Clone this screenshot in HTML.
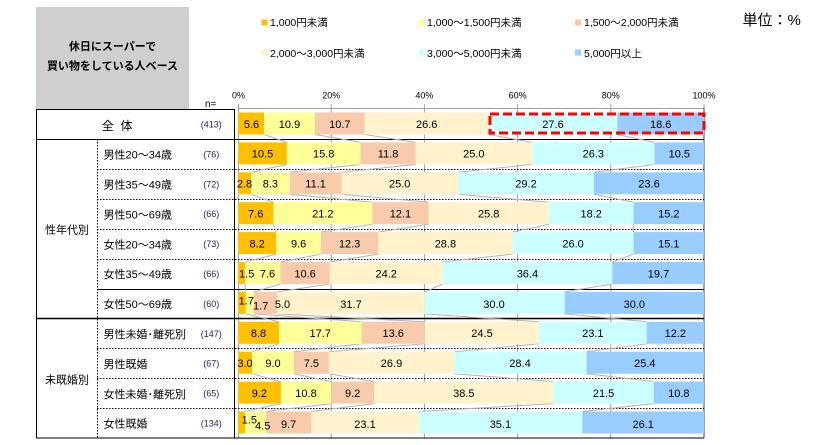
<!DOCTYPE html>
<html><head><meta charset="utf-8"><style>
html,body{margin:0;padding:0;background:#fff;}
svg{display:block;font-family:"Liberation Sans","Noto Sans CJK JP",sans-serif;}
</style></head><body>
<svg width="818" height="445" viewBox="0 0 818 445" xmlns="http://www.w3.org/2000/svg">
<rect x="0" y="0" width="818" height="445" fill="#fff"/>
<!-- header box -->
<rect x="36" y="7" width="153" height="102" fill="#D0CECE"/>
<text x="112.5" y="50" font-size="11" font-weight="bold" text-anchor="middle" fill="#000">休日にスーパーで</text>
<text x="112.5" y="69.5" font-size="11" font-weight="bold" text-anchor="middle" fill="#000">買い物をしている人ベース</text>
<!-- legend -->
<g font-size="10.5" fill="#000">
<rect x="261.5" y="19.5" width="6" height="6" fill="#FFC000"/><text x="270" y="26">1,000円未満</text>
<rect x="418.5" y="19.5" width="6" height="6" fill="#FFFF99"/><text x="427" y="26">1,000～1,500円未満</text>
<rect x="575" y="19.5" width="6" height="6" fill="#F8CBAD"/><text x="584" y="26">1,500～2,000円未満</text>
<rect x="261.5" y="49.5" width="6" height="6" fill="#FFF2CC"/><text x="270" y="57">2,000～3,000円未満</text>
<rect x="418.5" y="49.5" width="6" height="6" fill="#CCFFFF"/><text x="427" y="57">3,000～5,000円未満</text>
<rect x="575" y="49.5" width="6" height="6" fill="#99CCFF"/><text x="584" y="57">5,000円以上</text>
</g>
<text x="742.5" y="25" font-size="15" fill="#000">単位：%</text>
<!-- tick labels -->
<g font-size="9" text-anchor="middle" fill="#000">
<text x="238.5" y="98.5">0%</text>
<text x="331.2" y="98.5">20%</text>
<text x="424.4" y="98.5">40%</text>
<text x="517.6" y="98.5">60%</text>
<text x="610.8" y="98.5">80%</text>
<text x="704" y="98.5">100%</text>
</g>
<text x="205" y="107" font-size="10" fill="#000">n=</text>
<!-- gridlines -->
<g stroke="#A0A0A0" stroke-width="1">
<line x1="238.5" y1="104" x2="238.5" y2="438"/>
<line x1="331.2" y1="104" x2="331.2" y2="438"/>
<line x1="424.4" y1="104" x2="424.4" y2="438"/>
<line x1="517.6" y1="104" x2="517.6" y2="438"/>
<line x1="610.8" y1="104" x2="610.8" y2="438"/>
<line x1="704" y1="104" x2="704" y2="109"/>
<line x1="238" y1="108.5" x2="704" y2="108.5"/>
</g>
<!-- table lines -->
<g stroke="#000" stroke-width="1" fill="none">
<line x1="36" y1="109.5" x2="234" y2="109.5"/>
<line x1="36" y1="139.5" x2="704" y2="139.5"/>
<line x1="97" y1="289.5" x2="704" y2="289.5"/>
<line x1="36" y1="318.5" x2="704" y2="318.5" stroke-width="1.5"/>
<line x1="36" y1="438" x2="704" y2="438"/>
<line x1="36.5" y1="109" x2="36.5" y2="438"/>
<line x1="234.5" y1="109" x2="234.5" y2="438"/>
<line x1="704" y1="108" x2="704" y2="438" stroke="#404040"/>
</g>
<g stroke="#000" stroke-width="1" stroke-dasharray="1.5 1.5" fill="none">
<line x1="97.5" y1="139" x2="97.5" y2="438"/>
<line x1="97" y1="169.5" x2="704" y2="169.5"/>
<line x1="97" y1="199.5" x2="704" y2="199.5"/>
<line x1="97" y1="229.5" x2="704" y2="229.5"/>
<line x1="97" y1="259.5" x2="704" y2="259.5"/>
<line x1="97" y1="348.5" x2="704" y2="348.5"/>
<line x1="97" y1="378.5" x2="704" y2="378.5"/>
<line x1="97" y1="408.5" x2="704" y2="408.5"/>
</g>
<!-- connectors -->
<path fill="none" stroke="#B4B4B4" stroke-width="1" d="
M264.1 134.5L286.9 142.4 M314.9 134.5L360.6 142.4 M364.8 134.5L415.6 142.4 M488.7 134.5L532.1 142.4 M617.3 134.5L654.6 142.4
M286.9 164.4L251 172.3 M360.6 164.4L289.7 172.3 M415.6 164.4L341.5 172.3 M532.1 164.4L458 172.3 M654.6 164.4L594 172.3
M251 194.3L273.4 202.2 M289.7 194.3L372.2 202.2 M341.5 194.3L428.6 202.2 M458 194.3L548.8 202.2 M594 194.3L633.6 202.2
M273.4 224.2L276.2 232.1 M372.2 224.2L321 232.1 M428.6 224.2L378.3 232.1 M548.8 224.2L512.5 232.1 M633.6 224.2L633.6 232.1
M276.2 254.1L245 262 M321 254.1L280.4 262 M378.3 254.1L329.8 262 M512.5 254.1L442.6 262 M633.6 254.1L612.2 262
M245 284L245.9 291.9 M280.4 284L253.8 291.9 M329.8 284L277.1 291.9 M442.6 284L424.9 291.9 M612.2 284L564.7 291.9
M245.9 313.9L279 321.8 M253.8 313.9L361.5 321.8 M277.1 313.9L424.9 321.8 M424.9 313.9L539 321.8 M564.7 313.9L646.7 321.8
M279 343.8L252 351.7 M361.5 343.8L293.9 351.7 M424.9 343.8L328.9 351.7 M539 343.8L454.2 351.7 M646.7 343.8L586.6 351.7
M252 373.7L280.9 381.6 M293.9 373.7L331.2 381.6 M328.9 373.7L374.1 381.6 M454.2 373.7L553.5 381.6 M586.6 373.7L653.7 381.6
M280.9 403.6L245 411.5 M331.2 403.6L266 411.5 M374.1 403.6L311.2 411.5 M553.5 403.6L418.8 411.5 M653.7 403.6L582.4 411.5"/>
<!-- bars -->
<g>
<rect x="238" y="112.5" width="26.1" height="22" fill="#FFC000"/><rect x="264.1" y="112.5" width="50.8" height="22" fill="#FFFF99"/><rect x="314.9" y="112.5" width="49.9" height="22" fill="#F8CBAD"/><rect x="364.8" y="112.5" width="123.9" height="22" fill="#FFF2CC"/><rect x="488.7" y="112.5" width="128.6" height="22" fill="#CCFFFF"/><rect x="617.3" y="112.5" width="86.7" height="22" fill="#99CCFF"/>
<rect x="238" y="142.4" width="48.9" height="22" fill="#FFC000"/><rect x="286.9" y="142.4" width="73.7" height="22" fill="#FFFF99"/><rect x="360.6" y="142.4" width="55" height="22" fill="#F8CBAD"/><rect x="415.6" y="142.4" width="116.5" height="22" fill="#FFF2CC"/><rect x="532.1" y="142.4" width="122.5" height="22" fill="#CCFFFF"/><rect x="654.6" y="142.4" width="49.4" height="22" fill="#99CCFF"/>
<rect x="238" y="172.3" width="13" height="22" fill="#FFC000"/><rect x="251" y="172.3" width="38.7" height="22" fill="#FFFF99"/><rect x="289.7" y="172.3" width="51.8" height="22" fill="#F8CBAD"/><rect x="341.5" y="172.3" width="116.5" height="22" fill="#FFF2CC"/><rect x="458" y="172.3" width="136" height="22" fill="#CCFFFF"/><rect x="594" y="172.3" width="110" height="22" fill="#99CCFF"/>
<rect x="238" y="202.2" width="35.4" height="22" fill="#FFC000"/><rect x="273.4" y="202.2" width="98.8" height="22" fill="#FFFF99"/><rect x="372.2" y="202.2" width="56.4" height="22" fill="#F8CBAD"/><rect x="428.6" y="202.2" width="120.2" height="22" fill="#FFF2CC"/><rect x="548.8" y="202.2" width="84.8" height="22" fill="#CCFFFF"/><rect x="633.6" y="202.2" width="70.4" height="22" fill="#99CCFF"/>
<rect x="238" y="232.1" width="38.2" height="22" fill="#FFC000"/><rect x="276.2" y="232.1" width="44.8" height="22" fill="#FFFF99"/><rect x="321" y="232.1" width="57.3" height="22" fill="#F8CBAD"/><rect x="378.3" y="232.1" width="134.2" height="22" fill="#FFF2CC"/><rect x="512.5" y="232.1" width="121.1" height="22" fill="#CCFFFF"/><rect x="633.6" y="232.1" width="70.4" height="22" fill="#99CCFF"/>
<rect x="238" y="262" width="7" height="22" fill="#FFC000"/><rect x="245" y="262" width="35.4" height="22" fill="#FFFF99"/><rect x="280.4" y="262" width="49.4" height="22" fill="#F8CBAD"/><rect x="329.8" y="262" width="112.8" height="22" fill="#FFF2CC"/><rect x="442.6" y="262" width="169.6" height="22" fill="#CCFFFF"/><rect x="612.2" y="262" width="91.8" height="22" fill="#99CCFF"/>
<rect x="238" y="291.9" width="7.9" height="22" fill="#FFC000"/><rect x="245.9" y="291.9" width="7.9" height="22" fill="#FFFF99"/><rect x="253.8" y="291.9" width="23.3" height="22" fill="#F8CBAD"/><rect x="277.1" y="291.9" width="147.8" height="22" fill="#FFF2CC"/><rect x="424.9" y="291.9" width="139.8" height="22" fill="#CCFFFF"/><rect x="564.7" y="291.9" width="139.3" height="22" fill="#99CCFF"/>
<rect x="238" y="321.8" width="41" height="22" fill="#FFC000"/><rect x="279" y="321.8" width="82.5" height="22" fill="#FFFF99"/><rect x="361.5" y="321.8" width="63.4" height="22" fill="#F8CBAD"/><rect x="424.9" y="321.8" width="114.1" height="22" fill="#FFF2CC"/><rect x="539" y="321.8" width="107.7" height="22" fill="#CCFFFF"/><rect x="646.7" y="321.8" width="57.3" height="22" fill="#99CCFF"/>
<rect x="238" y="351.7" width="14" height="22" fill="#FFC000"/><rect x="252" y="351.7" width="41.9" height="22" fill="#FFFF99"/><rect x="293.9" y="351.7" width="35" height="22" fill="#F8CBAD"/><rect x="328.9" y="351.7" width="125.3" height="22" fill="#FFF2CC"/><rect x="454.2" y="351.7" width="132.4" height="22" fill="#CCFFFF"/><rect x="586.6" y="351.7" width="117.4" height="22" fill="#99CCFF"/>
<rect x="238" y="381.6" width="42.9" height="22" fill="#FFC000"/><rect x="280.9" y="381.6" width="50.3" height="22" fill="#FFFF99"/><rect x="331.2" y="381.6" width="42.9" height="22" fill="#F8CBAD"/><rect x="374.1" y="381.6" width="179.4" height="22" fill="#FFF2CC"/><rect x="553.5" y="381.6" width="100.2" height="22" fill="#CCFFFF"/><rect x="653.7" y="381.6" width="50.3" height="22" fill="#99CCFF"/>
<rect x="238" y="411.5" width="7" height="22" fill="#FFC000"/><rect x="245" y="411.5" width="21" height="22" fill="#FFFF99"/><rect x="266" y="411.5" width="45.2" height="22" fill="#F8CBAD"/><rect x="311.2" y="411.5" width="107.6" height="22" fill="#FFF2CC"/><rect x="418.8" y="411.5" width="163.6" height="22" fill="#CCFFFF"/><rect x="582.4" y="411.5" width="121.6" height="22" fill="#99CCFF"/>
</g>
<!-- value labels -->
<g font-size="11" text-anchor="middle" fill="#000">
<text x="251.5" y="127.8">5.6</text><text x="289.5" y="127.8">10.9</text><text x="339.8" y="127.8">10.7</text><text x="426.7" y="127.8">26.6</text><text x="553" y="127.8">27.6</text><text x="660.7" y="127.8">18.6</text>
<text x="262.5" y="157.7">10.5</text><text x="323.7" y="157.7">15.8</text><text x="388.1" y="157.7">11.8</text><text x="473.8" y="157.7">25.0</text><text x="593.3" y="157.7">26.3</text><text x="679.3" y="157.7">10.5</text>
<text x="244.5" y="187.6">2.8</text><text x="270.4" y="187.6">8.3</text><text x="315.6" y="187.6">11.1</text><text x="399.7" y="187.6">25.0</text><text x="526" y="187.6">29.2</text><text x="649" y="187.6">23.6</text>
<text x="255.7" y="217.5">7.6</text><text x="322.8" y="217.5">21.2</text><text x="400.4" y="217.5">12.1</text><text x="488.7" y="217.5">25.8</text><text x="591.2" y="217.5">18.2</text><text x="668.8" y="217.5">15.2</text>
<text x="257.1" y="247.4">8.2</text><text x="298.6" y="247.4">9.6</text><text x="349.6" y="247.4">12.3</text><text x="445.4" y="247.4">28.8</text><text x="573.1" y="247.4">26.0</text><text x="668.8" y="247.4">15.1</text>
<text x="246.7" y="277.3">1.5</text><text x="267.5" y="277.3">7.6</text><text x="305.1" y="277.3">10.6</text><text x="386.2" y="277.3">24.2</text><text x="527.4" y="277.3">36.4</text><text x="658.5" y="277.3">19.7</text>
<text x="246.3" y="304.6">1.7</text><text x="260.7" y="309.6">1.7</text><text x="282.5" y="308">5.0</text><text x="351" y="308">31.7</text><text x="494" y="308">30.0</text><text x="634.3" y="308">30.0</text>
<text x="258.5" y="337.1">8.8</text><text x="320.2" y="337.1">17.7</text><text x="393.2" y="337.1">13.6</text><text x="482" y="337.1">24.5</text><text x="592.8" y="337.1">23.1</text><text x="675.3" y="337.1">12.2</text>
<text x="245" y="367">3.0</text><text x="273" y="367">9.0</text><text x="311.4" y="367">7.5</text><text x="391.5" y="367">26.9</text><text x="520" y="367">28.4</text><text x="644.8" y="367">25.4</text>
<text x="259.4" y="396.9">9.2</text><text x="306" y="396.9">10.8</text><text x="352.6" y="396.9">9.2</text><text x="463.8" y="396.9">38.5</text><text x="603.6" y="396.9">21.5</text><text x="678.8" y="396.9">10.8</text>
<text x="249.3" y="423.3">1.5</text><text x="262.7" y="429.7">4.5</text><text x="288.6" y="428">9.7</text><text x="365" y="428">23.1</text><text x="500.4" y="428">35.1</text><text x="643.2" y="428">26.1</text>
</g>
<!-- red dashed highlight -->
<rect x="490" y="114" width="214" height="19" fill="none" stroke="#FF0000" stroke-width="3" stroke-dasharray="9 4"/>
<!-- row labels -->
<g font-size="12" fill="#000">
<text x="101.7" y="130.2">全</text><text x="120.5" y="130.2">体</text>
</g>
<g font-size="11" fill="#000">
<text x="45" y="233.5">性年代別</text>
<text x="45" y="383.5">未既婚別</text>
<text x="103.5" y="158.6">男性20～34歳</text>
<text x="103.5" y="188.5">男性35～49歳</text>
<text x="103.5" y="218.4">男性50～69歳</text>
<text x="103.5" y="248.3">女性20～34歳</text>
<text x="103.5" y="278.2">女性35～49歳</text>
<text x="103.5" y="308.1">女性50～69歳</text>
<text x="103.5" y="338">男性未婚･離死別</text>
<text x="103.5" y="367.9">男性既婚</text>
<text x="103.5" y="397.8">女性未婚･離死別</text>
<text x="103.5" y="427.7">女性既婚</text>
</g>
<g font-size="9" fill="#262660" text-anchor="middle">
<text x="211.3" y="127.6">(413)</text>
<text x="211.3" y="157.4">(76)</text>
<text x="211.3" y="187.3">(72)</text>
<text x="211.3" y="217.2">(66)</text>
<text x="211.3" y="247.1">(73)</text>
<text x="211.3" y="277">(66)</text>
<text x="211.3" y="306.9">(60)</text>
<text x="211.3" y="336.8">(147)</text>
<text x="211.3" y="366.7">(67)</text>
<text x="211.3" y="396.6">(65)</text>
<text x="211.3" y="426.5">(134)</text>
</g>
</svg>
</body></html>
